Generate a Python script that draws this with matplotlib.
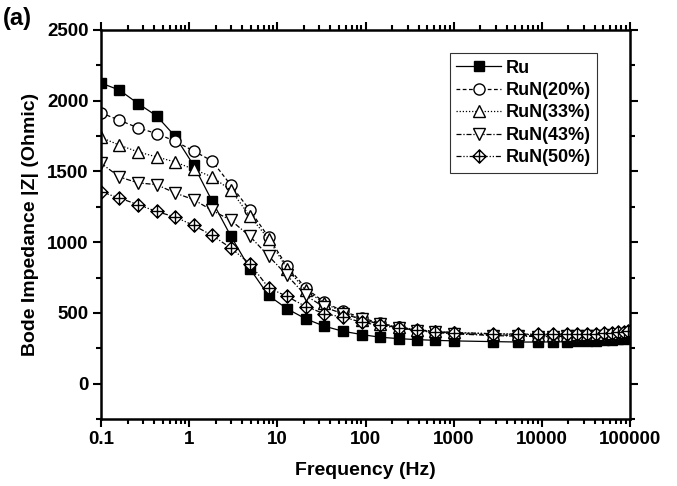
import numpy as np
import matplotlib.pyplot as plt
from matplotlib.path import Path
from matplotlib.ticker import FixedLocator, FixedFormatter, LogLocator, MultipleLocator

plt.rcParams['font.family'] = ['Liberation Sans', 'DejaVu Sans']
plt.rcParams['font.weight'] = 'bold'

# Frequencies (Hz)
freq = [0.1, 0.162, 0.263, 0.427, 0.691, 1.12, 1.82, 2.98, 4.89, 7.94,
        12.9, 21.0, 34.1, 55.6, 90.5, 146, 240, 381, 614, 1009,
        2773, 5408, 9120, 13490, 19140, 25240, 32760, 41110, 50680,
        61960, 73620, 85460, 95520]

ru = [2125, 2075, 1980, 1893, 1749, 1545, 1291, 1041, 812, 623,
      529, 458, 406, 370, 347, 328, 318, 311, 306, 302,
      297, 294, 294, 295, 296, 298, 300, 302, 305, 308, 312, 317, 324]
run20 = [1914, 1862, 1808, 1768, 1714, 1645, 1574, 1402, 1225, 1036,
         829, 675, 576, 512, 465, 427, 399, 380, 366, 356,
         345, 340, 338, 338, 339, 340, 341, 343, 345, 347, 350, 354, 358]
run33 = [1740, 1686, 1638, 1603, 1567, 1516, 1461, 1367, 1183, 1023,
         812, 659, 569, 505, 451, 423, 399, 382, 370, 362,
         352, 348, 346, 346, 347, 348, 349, 351, 353, 355, 358, 362, 366]
run43 = [1558, 1461, 1419, 1407, 1348, 1301, 1225, 1154, 1041, 903,
         765, 623, 540, 494, 455, 420, 392, 375, 362, 352,
         340, 335, 333, 333, 334, 335, 336, 338, 340, 343, 346, 351, 356]
run50 = [1355, 1312, 1265, 1217, 1178, 1119, 1048, 958, 848, 678,
         616, 545, 494, 470, 434, 411, 392, 378, 368, 361,
         353, 350, 349, 349, 350, 351, 352, 354, 356, 358, 362, 366, 372]

series = [ru, run20, run33, run43, run50]
labels = ['Ru', 'RuN(20%)', 'RuN(33%)', 'RuN(43%)', 'RuN(50%)']

xticks = [0.1, 1, 10, 100, 1000, 10000, 100000]
xticklabels = ['0.1', '1', '10', '100', '1000', '10000', '100000']

# diamond with a cross inside
verts = [(0, 1), (1, 0), (0, -1), (-1, 0), (0, 1),
         (0, 1), (0, -1), (-1, 0), (1, 0)]
codes = [Path.MOVETO, Path.LINETO, Path.LINETO, Path.LINETO, Path.CLOSEPOLY,
         Path.MOVETO, Path.LINETO, Path.MOVETO, Path.LINETO]
cross_diamond = Path(verts, codes)

markers = ['s', 'o', '^', 'v', cross_diamond]
faces = ['black', 'white', 'white', 'white', 'white']
styles = ['-', (0, (3, 2)), (0, (1, 1.5)), (0, (4, 1.5, 1, 1.5)), (0, (4, 1.5, 1, 1.5, 1, 1.5))]
sizes = [7.5, 8, 8, 8, 9.5]

fig = plt.figure(figsize=(6.77, 4.86), dpi=100)
ax = fig.add_axes([0.1492, 0.1379, 0.7814, 0.8004])

for y, lab, m, fc, ls, ms in zip(series, labels, markers, faces, styles, sizes):
    ax.plot(freq, y, color='black', linestyle=ls, linewidth=0.9,
            marker=m, markersize=ms, markerfacecolor=fc,
            markeredgecolor='black', markeredgewidth=1.0, label=lab)

ax.set_xscale('log')
ax.set_xlim(0.1, 100000)
ax.set_ylim(-250, 2500)
ax.xaxis.set_major_locator(FixedLocator(xticks))
ax.xaxis.set_major_formatter(FixedFormatter(xticklabels))
ax.xaxis.set_minor_locator(LogLocator(base=10, subs=np.arange(2, 10), numticks=20))
ax.xaxis.set_minor_formatter(FixedFormatter([]))
ax.yaxis.set_major_locator(FixedLocator([0, 500, 1000, 1500, 2000, 2500]))
ax.yaxis.set_minor_locator(MultipleLocator(250))

for s in ax.spines.values():
    s.set_linewidth(1.8)
ax.tick_params(which='both', direction='out', top=True, right=True, width=1.5)
ax.tick_params(which='major', length=6, labelsize=13.5, pad=3)
ax.tick_params(which='minor', length=3.5)

ax.set_xlabel('Frequency (Hz)', fontsize=14, fontweight='bold', labelpad=10)
ax.set_ylabel('Bode Impedance |Z| (Ohmic)', fontsize=14, fontweight='bold', labelpad=6)
fig.text(0.004, 0.948, '(a)', fontsize=17, fontweight='bold')

leg = ax.legend(loc='upper right', bbox_to_anchor=(0.938, 0.94), fontsize=13,
                frameon=True, fancybox=False, edgecolor='black',
                handlelength=2.5, labelspacing=0.3, borderpad=0.35,
                handletextpad=0.25, borderaxespad=0)
leg.get_frame().set_linewidth(0.8)

fig.savefig('out.png', dpi=100)
